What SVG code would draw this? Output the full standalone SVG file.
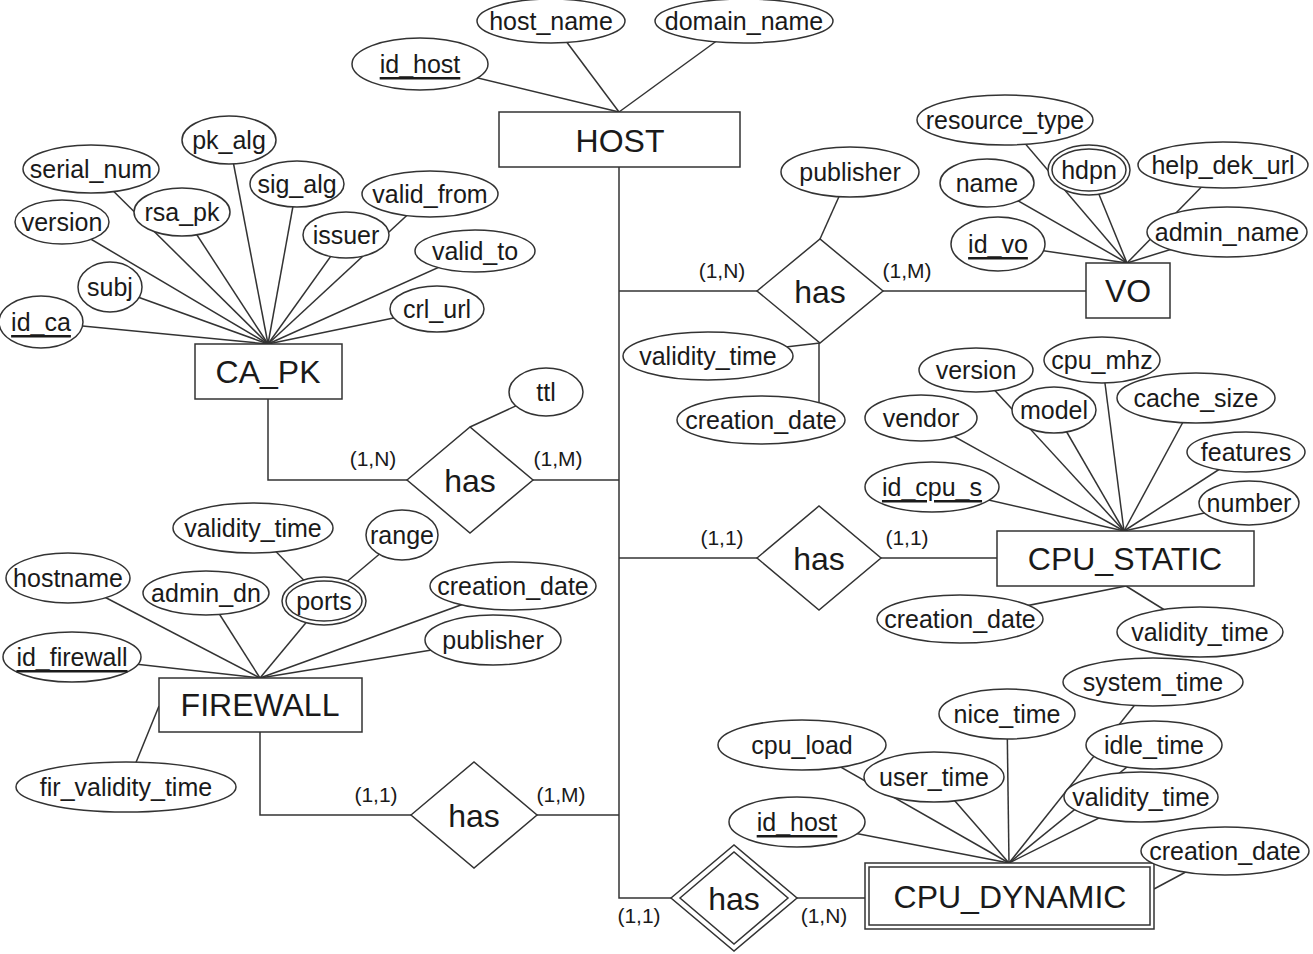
<svg xmlns="http://www.w3.org/2000/svg" width="1313" height="954" viewBox="0 0 1313 954">
<style>
  .bg{fill:#fff}
  .c line,.c path{stroke:#333;stroke-width:1.5;fill:none}
  ellipse,rect,polygon{fill:#fff;stroke:#333;stroke-width:1.5}
  text{font-family:"Liberation Sans",Arial,sans-serif;fill:#1a1a1a;text-anchor:middle;dominant-baseline:central}
  .a{font-size:25px}
  .en{font-size:32px}
  .r{font-size:32px}
  .k{font-size:21px}
  .u{text-decoration:underline}
</style>
<rect class="bg" x="0" y="0" width="1313" height="954" style="stroke:none"/>
<g class="c" id="connectors">
  <!-- HOST attrs -->
  <line x1="420" y1="64" x2="619" y2="112"/>
  <line x1="551" y1="21" x2="619" y2="112"/>
  <line x1="744" y1="21" x2="619" y2="112"/>
  <!-- trunk -->
  <path d="M619,167 V898 H671"/>
  <!-- HOST-VO has -->
  <path d="M619,291 H757"/>
  <path d="M883,291 H1086"/>
  <line x1="850" y1="172" x2="820" y2="239"/>
  <line x1="708" y1="356" x2="820" y2="343"/>
  <line x1="819" y1="343" x2="819" y2="420"/>
  <!-- VO attrs -->
  <line x1="1005" y1="120" x2="1127" y2="263"/>
  <line x1="987" y1="183" x2="1127" y2="263"/>
  <line x1="1089" y1="170" x2="1127" y2="263"/>
  <line x1="1223" y1="165" x2="1127" y2="263"/>
  <line x1="998" y1="244" x2="1127" y2="263"/>
  <line x1="1227" y1="232" x2="1127" y2="263"/>
  <!-- CPU_STATIC has -->
  <path d="M619,558 H757"/>
  <path d="M881,558 H997"/>
  <!-- CPU_STATIC attrs -->
  <line x1="976" y1="370" x2="1124" y2="531"/>
  <line x1="1102" y1="360" x2="1124" y2="531"/>
  <line x1="921" y1="418" x2="1124" y2="531"/>
  <line x1="1054" y1="410" x2="1124" y2="531"/>
  <line x1="1196" y1="398" x2="1124" y2="531"/>
  <line x1="1246" y1="452" x2="1124" y2="531"/>
  <line x1="932" y1="487" x2="1124" y2="531"/>
  <line x1="1249" y1="503" x2="1124" y2="531"/>
  <line x1="960" y1="619" x2="1126" y2="586"/>
  <line x1="1200" y1="632" x2="1126" y2="586"/>
  <!-- CA_PK attrs -->
  <line x1="41" y1="322" x2="268" y2="344"/>
  <line x1="110" y1="287" x2="268" y2="344"/>
  <line x1="62" y1="222" x2="268" y2="344"/>
  <line x1="91" y1="169" x2="268" y2="344"/>
  <line x1="182" y1="212" x2="268" y2="344"/>
  <line x1="229" y1="140" x2="268" y2="344"/>
  <line x1="297" y1="184" x2="268" y2="344"/>
  <line x1="346" y1="235" x2="268" y2="344"/>
  <line x1="430" y1="194" x2="268" y2="344"/>
  <line x1="475" y1="251" x2="268" y2="344"/>
  <line x1="437" y1="309" x2="268" y2="344"/>
  <!-- CA_PK has -->
  <path d="M268,399 V480 H407"/>
  <path d="M533,480 H619"/>
  <line x1="546" y1="392" x2="470" y2="427"/>
  <!-- FIREWALL attrs -->
  <line x1="68" y1="578" x2="260" y2="678"/>
  <line x1="206" y1="593" x2="260" y2="678"/>
  <line x1="324" y1="601" x2="260" y2="678"/>
  <line x1="253" y1="528" x2="324" y2="601"/>
  <line x1="402" y1="535" x2="324" y2="601"/>
  <line x1="513" y1="586" x2="260" y2="678"/>
  <line x1="493" y1="640" x2="260" y2="678"/>
  <line x1="72" y1="657" x2="260" y2="678"/>
  <line x1="126" y1="787" x2="159" y2="706"/>
  <!-- FIREWALL has -->
  <path d="M260,732 V815 H411"/>
  <path d="M537,815 H619"/>
  <!-- CPU_DYNAMIC has -->
  <path d="M797,898 H865"/>
  <!-- CPU_DYNAMIC attrs -->
  <line x1="802" y1="745" x2="1009" y2="863"/>
  <line x1="934" y1="777" x2="1009" y2="863"/>
  <line x1="1007" y1="714" x2="1009" y2="863"/>
  <line x1="1153" y1="682" x2="1009" y2="863"/>
  <line x1="1154" y1="745" x2="1009" y2="863"/>
  <line x1="1141" y1="797" x2="1009" y2="863"/>
  <line x1="797" y1="822" x2="1009" y2="863"/>
  <line x1="1225" y1="851" x2="1154" y2="889"/>
</g>

<!-- Cardinality labels -->
<g id="cardinalities">
  <text class="k" x="722" y="270">(1,N)</text>
  <text class="k" x="907" y="270">(1,M)</text>
  <text class="k" x="722" y="537">(1,1)</text>
  <text class="k" x="907" y="537">(1,1)</text>
  <text class="k" x="373" y="458">(1,N)</text>
  <text class="k" x="558" y="458">(1,M)</text>
  <text class="k" x="376" y="794">(1,1)</text>
  <text class="k" x="561" y="794">(1,M)</text>
  <text class="k" x="639" y="915">(1,1)</text>
  <text class="k" x="824" y="915">(1,N)</text>
</g>

<!-- HOST -->
<g id="host"><rect x="499" y="112" width="241" height="55"/><text class="en" x="620" y="141">HOST</text></g>
<g id="host_id_host"><ellipse cx="420" cy="64" rx="68" ry="26"/><text class="a u" x="420" y="64">id_host</text></g>
<g id="host_host_name"><ellipse cx="551" cy="21" rx="74" ry="22"/><text class="a" x="551" y="21">host_name</text></g>
<g id="host_domain_name"><ellipse cx="744" cy="21" rx="89" ry="22"/><text class="a" x="744" y="21">domain_name</text></g>

<!-- has HOST-VO -->
<g id="has_vo"><polygon points="757,291 820,239 883,291 820,343"/><text class="r" x="820" y="292">has</text></g>
<g id="has_vo_publisher"><ellipse cx="850" cy="172" rx="69" ry="25"/><text class="a" x="850" y="172">publisher</text></g>
<g id="has_vo_validity_time"><ellipse cx="708" cy="356" rx="85" ry="24"/><text class="a" x="708" y="356">validity_time</text></g>
<g id="has_vo_creation_date"><ellipse cx="761" cy="420" rx="84" ry="24"/><text class="a" x="761" y="420">creation_date</text></g>

<!-- VO -->
<g id="vo"><rect x="1086" y="263" width="84" height="55"/><text class="en" x="1128" y="291">VO</text></g>
<g id="vo_resource_type"><ellipse cx="1005" cy="120" rx="88" ry="25"/><text class="a" x="1005" y="120">resource_type</text></g>
<g id="vo_name"><ellipse cx="987" cy="183" rx="47" ry="24"/><text class="a" x="987" y="183">name</text></g>
<g id="vo_hdpn"><ellipse cx="1089" cy="170" rx="41" ry="25"/><ellipse cx="1089" cy="170" rx="37" ry="21"/><text class="a" x="1089" y="170">hdpn</text></g>
<g id="vo_help_dek_url"><ellipse cx="1223" cy="165" rx="85" ry="23"/><text class="a" x="1223" y="165">help_dek_url</text></g>
<g id="vo_id_vo"><ellipse cx="998" cy="244" rx="47" ry="27"/><text class="a u" x="998" y="244">id_vo</text></g>
<g id="vo_admin_name"><ellipse cx="1227" cy="232" rx="80" ry="25"/><text class="a" x="1227" y="232">admin_name</text></g>

<!-- has CPU_STATIC -->
<g id="has_cpu_static"><polygon points="757,558 819,506 881,558 819,610"/><text class="r" x="819" y="559">has</text></g>

<!-- CPU_STATIC -->
<g id="cpu_static"><rect x="997" y="531" width="257" height="55"/><text class="en" x="1125" y="559">CPU_STATIC</text></g>
<g id="cs_version"><ellipse cx="976" cy="370" rx="57" ry="22"/><text class="a" x="976" y="370">version</text></g>
<g id="cs_cpu_mhz"><ellipse cx="1102" cy="360" rx="58" ry="23"/><text class="a" x="1102" y="360">cpu_mhz</text></g>
<g id="cs_vendor"><ellipse cx="921" cy="418" rx="56" ry="23"/><text class="a" x="921" y="418">vendor</text></g>
<g id="cs_model"><ellipse cx="1054" cy="410" rx="42" ry="23"/><text class="a" x="1054" y="410">model</text></g>
<g id="cs_cache_size"><ellipse cx="1196" cy="398" rx="79" ry="25"/><text class="a" x="1196" y="398">cache_size</text></g>
<g id="cs_features"><ellipse cx="1246" cy="452" rx="59" ry="20"/><text class="a" x="1246" y="452">features</text></g>
<g id="cs_id_cpu_s"><ellipse cx="932" cy="487" rx="67" ry="25"/><text class="a u" x="932" y="487">id_cpu_s</text></g>
<g id="cs_number"><ellipse cx="1249" cy="503" rx="50" ry="22"/><text class="a" x="1249" y="503">number</text></g>
<g id="cs_creation_date"><ellipse cx="960" cy="619" rx="83" ry="24"/><text class="a" x="960" y="619">creation_date</text></g>
<g id="cs_validity_time"><ellipse cx="1200" cy="632" rx="83" ry="25"/><text class="a" x="1200" y="632">validity_time</text></g>

<!-- CA_PK -->
<g id="ca_pk"><rect x="195" y="344" width="147" height="55"/><text class="en" x="268" y="372">CA_PK</text></g>
<g id="ca_id_ca"><ellipse cx="41" cy="322" rx="42" ry="26"/><text class="a u" x="41" y="322">id_ca</text></g>
<g id="ca_subj"><ellipse cx="110" cy="287" rx="32" ry="25"/><text class="a" x="110" y="287">subj</text></g>
<g id="ca_version"><ellipse cx="62" cy="222" rx="47" ry="22"/><text class="a" x="62" y="222">version</text></g>
<g id="ca_serial_num"><ellipse cx="91" cy="169" rx="68" ry="24"/><text class="a" x="91" y="169">serial_num</text></g>
<g id="ca_rsa_pk"><ellipse cx="182" cy="212" rx="48" ry="24"/><text class="a" x="182" y="212">rsa_pk</text></g>
<g id="ca_pk_alg"><ellipse cx="229" cy="140" rx="47" ry="24"/><text class="a" x="229" y="140">pk_alg</text></g>
<g id="ca_sig_alg"><ellipse cx="297" cy="184" rx="47" ry="23"/><text class="a" x="297" y="184">sig_alg</text></g>
<g id="ca_issuer"><ellipse cx="346" cy="235" rx="43" ry="23"/><text class="a" x="346" y="235">issuer</text></g>
<g id="ca_valid_from"><ellipse cx="430" cy="194" rx="68" ry="23"/><text class="a" x="430" y="194">valid_from</text></g>
<g id="ca_valid_to"><ellipse cx="475" cy="251" rx="60" ry="21"/><text class="a" x="475" y="251">valid_to</text></g>
<g id="ca_crl_url"><ellipse cx="437" cy="309" rx="47" ry="23"/><text class="a" x="437" y="309">crl_url</text></g>

<!-- has CA_PK -->
<g id="has_ca_pk"><polygon points="407,480 470,427 533,480 470,533"/><text class="r" x="470" y="481">has</text></g>
<g id="has_ca_pk_ttl"><ellipse cx="546" cy="392" rx="37" ry="24"/><text class="a" x="546" y="392">ttl</text></g>

<!-- FIREWALL -->
<g id="firewall"><rect x="159" y="678" width="203" height="54"/><text class="en" x="260" y="705">FIREWALL</text></g>
<g id="fw_hostname"><ellipse cx="68" cy="578" rx="62" ry="25"/><text class="a" x="68" y="578">hostname</text></g>
<g id="fw_admin_dn"><ellipse cx="206" cy="593" rx="63" ry="22"/><text class="a" x="206" y="593">admin_dn</text></g>
<g id="fw_ports"><ellipse cx="324" cy="601" rx="42" ry="24"/><ellipse cx="324" cy="601" rx="38" ry="20"/><text class="a" x="324" y="601">ports</text></g>
<g id="fw_ports_validity_time"><ellipse cx="253" cy="528" rx="80" ry="25"/><text class="a" x="253" y="528">validity_time</text></g>
<g id="fw_ports_range"><ellipse cx="402" cy="535" rx="36" ry="25"/><text class="a" x="402" y="535">range</text></g>
<g id="fw_creation_date"><ellipse cx="513" cy="586" rx="83" ry="24"/><text class="a" x="513" y="586">creation_date</text></g>
<g id="fw_publisher"><ellipse cx="493" cy="640" rx="68" ry="25"/><text class="a" x="493" y="640">publisher</text></g>
<g id="fw_id_firewall"><ellipse cx="72" cy="657" rx="69" ry="25"/><text class="a u" x="72" y="657">id_firewall</text></g>
<g id="fw_fir_validity_time"><ellipse cx="126" cy="787" rx="110" ry="25"/><text class="a" x="126" y="787">fir_validity_time</text></g>

<!-- has FIREWALL -->
<g id="has_firewall"><polygon points="411,815 474,762 537,815 474,868"/><text class="r" x="474" y="816">has</text></g>

<!-- has CPU_DYNAMIC (weak) -->
<g id="has_cpu_dynamic"><polygon points="671,898 734,845 797,898 734,951"/><polygon points="680,898 734,852 788,898 734,944"/><text class="r" x="734" y="899">has</text></g>

<!-- CPU_DYNAMIC (weak entity) -->
<g id="cpu_dynamic"><rect x="865" y="863" width="289" height="66"/><rect x="869" y="867" width="281" height="58"/><text class="en" x="1010" y="897">CPU_DYNAMIC</text></g>
<g id="cd_cpu_load"><ellipse cx="802" cy="745" rx="84" ry="25"/><text class="a" x="802" y="745">cpu_load</text></g>
<g id="cd_user_time"><ellipse cx="934" cy="777" rx="70" ry="25"/><text class="a" x="934" y="777">user_time</text></g>
<g id="cd_nice_time"><ellipse cx="1007" cy="714" rx="68" ry="25"/><text class="a" x="1007" y="714">nice_time</text></g>
<g id="cd_system_time"><ellipse cx="1153" cy="682" rx="90" ry="24"/><text class="a" x="1153" y="682">system_time</text></g>
<g id="cd_idle_time"><ellipse cx="1154" cy="745" rx="68" ry="24"/><text class="a" x="1154" y="745">idle_time</text></g>
<g id="cd_validity_time"><ellipse cx="1141" cy="797" rx="77" ry="25"/><text class="a" x="1141" y="797">validity_time</text></g>
<g id="cd_id_host"><ellipse cx="797" cy="822" rx="68" ry="25"/><text class="a u" x="797" y="822">id_host</text></g>
<g id="cd_creation_date"><ellipse cx="1225" cy="851" rx="84" ry="24"/><text class="a" x="1225" y="851">creation_date</text></g>
</svg>
